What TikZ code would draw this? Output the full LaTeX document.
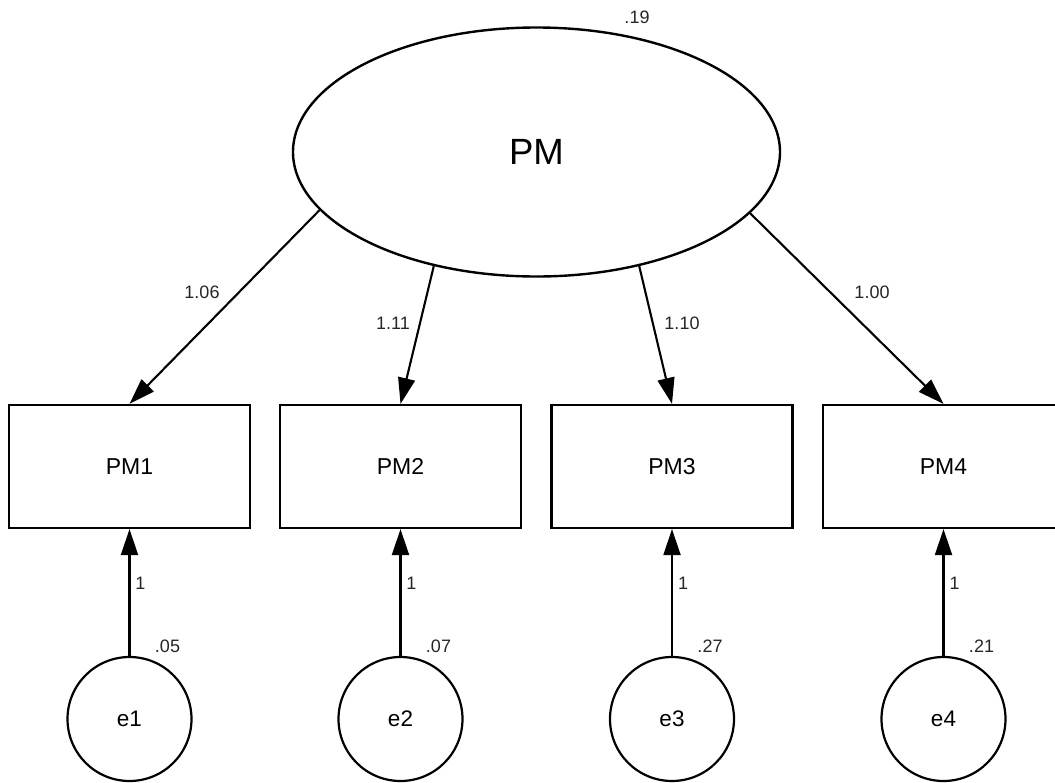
\documentclass[tikz,border=0pt]{standalone}
\usepackage{fontspec}
\setmainfont{Liberation Sans}
\usetikzlibrary{shapes.geometric,arrows.meta}
\begin{document}
\begin{tikzpicture}[x=1pt,y=-1pt,
  latent/.style={ellipse,draw,line width=2.4pt,minimum width=487pt,minimum height=249pt,inner sep=0pt,font=\fontsize{36.5}{40}\selectfont},
  observed/.style={rectangle,draw,line width=2.2pt,minimum width=241pt,minimum height=123pt,inner sep=0pt,font=\fontsize{23}{26}\selectfont},
  errnode/.style={circle,draw,line width=2.2pt,minimum size=124pt,inner sep=0pt,font=\fontsize{22.5}{26}\selectfont},
  path/.style={line width=2.1pt,-{Triangle[length=26pt,width=17pt]}},
  est/.style={font=\fontsize{18}{20}\selectfont,text=black!85,inner sep=0pt}]
\useasboundingbox (0,0) rectangle (1055,782);

% latent factor
\node[latent] (PM) at (536.5,152) {PM};
\node[est] (vPM) at (637,17) {.19};

% indicators
\node[observed] (PM1) at (129.5,466.5) {PM1};
\node[observed] (PM2) at (400.5,466.5) {PM2};
\node[observed] (PM3) at (672,466.5) {PM3};
\node[observed] (PM4) at (943.5,466.5) {PM4};

% residuals
\node[errnode] (e1) at (129.5,719) {e1};
\node[errnode] (e2) at (400.5,719) {e2};
\node[errnode] (e3) at (672,719) {e3};
\node[errnode] (e4) at (943.5,719) {e4};

% factor loadings
\draw[path] (PM.195.5) -- (PM1.north);
\draw[path] (PM.228) -- (PM2.north);
\draw[path] (PM.312) -- (PM3.north);
\draw[path] (PM.344.5) -- (PM4.north);
\node[est] (l1) at (202,292) {1.06};
\node[est] (l2) at (393,323) {1.11};
\node[est] (l3) at (682,323) {1.10};
\node[est] (l4) at (872,292) {1.00};

% residual paths
\foreach \i/\x/\v in {1/129.5/.05,2/400.5/.07,3/672/.27,4/943.5/.21}{
  \draw[path] (e\i.north) -- (PM\i.south);
  \node[est] (one\i) at (\x+11,583) {1};
  \node[est] (var\i) at (\x+38,646) {\v};
}
\end{tikzpicture}
\end{document}
